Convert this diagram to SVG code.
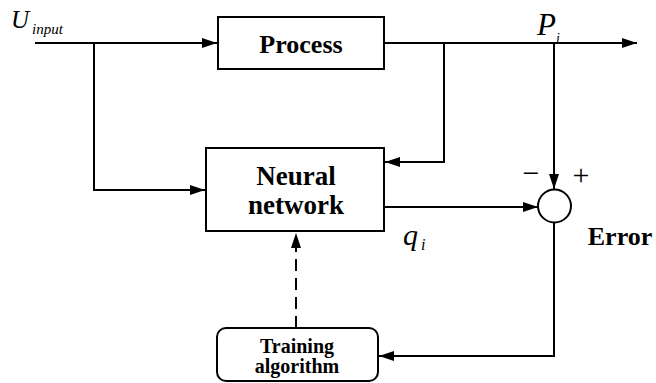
<svg xmlns="http://www.w3.org/2000/svg" width="656" height="383" viewBox="0 0 656 383">
<style>
.box{fill:#fff;stroke:#000;stroke-width:2}
.ln{fill:none;stroke:#000;stroke-width:2}
.dash{stroke-dasharray:12 7}
.bt{font-family:"Liberation Serif","Times New Roman",serif;font-weight:bold;fill:#000;text-anchor:middle}
.it{font-family:"Liberation Serif","Times New Roman",serif;font-style:italic;fill:#000}
.sym{font-family:"Liberation Serif","Times New Roman",serif;fill:#000;text-anchor:middle}
</style>
<defs>
<marker id="arr" markerUnits="userSpaceOnUse" markerWidth="17" markerHeight="11" refX="15" refY="5" orient="auto">
<path d="M0,0 L15,5 L0,10 Z" fill="#000"/>
</marker>
</defs>
<rect width="656" height="383" fill="#fff"/>
<g id="connectors">
<path class="ln" d="M35,43 H217" marker-end="url(#arr)"/>
<path class="ln" d="M94,43 V190 H205" marker-end="url(#arr)"/>
<path class="ln" d="M384,43 H637" marker-end="url(#arr)"/>
<path class="ln" d="M444,43 V162 H385" marker-end="url(#arr)"/>
<path class="ln" d="M554,43 V189" marker-end="url(#arr)"/>
<path class="ln" d="M384,207 H538" marker-end="url(#arr)"/>
<path class="ln" d="M554,223 V356 H379" marker-end="url(#arr)"/>
<path class="ln dash" d="M296,328 V233" marker-end="url(#arr)"/>
</g>
<g id="process">
<rect class="box" x="218" y="17" width="166" height="52"/>
<text class="bt" x="301" y="53" font-size="26">Process</text>
</g>
<g id="neural-network">
<rect class="box" x="206" y="148" width="178" height="83"/>
<text class="bt" x="296" y="185" font-size="27">Neural</text>
<text class="bt" x="296" y="214" font-size="27">network</text>
</g>
<g id="training">
<rect class="box" x="217" y="328" width="161" height="53" rx="9"/>
<text class="bt" x="297" y="353" font-size="20">Training</text>
<text class="bt" x="297" y="373" font-size="20">algorithm</text>
</g>
<g id="sum">
<circle class="box" cx="554.5" cy="206" r="16.5"/>
<text class="sym" x="531" y="183" font-size="30">−</text>
<text class="sym" x="581" y="185" font-size="30">+</text>
</g>
<g id="labels">
<text class="it" x="11" y="28" font-size="25">U</text>
<text class="it" x="32" y="34" font-size="15">input</text>
<text class="it" x="537" y="35" font-size="31">P</text>
<text class="it" x="556" y="43" font-size="14">i</text>
<text class="it" x="403" y="245" font-size="30">q</text>
<text class="it" x="421" y="250" font-size="16">i</text>
<text class="bt" x="620" y="245" font-size="26">Error</text>
</g>
</svg>
